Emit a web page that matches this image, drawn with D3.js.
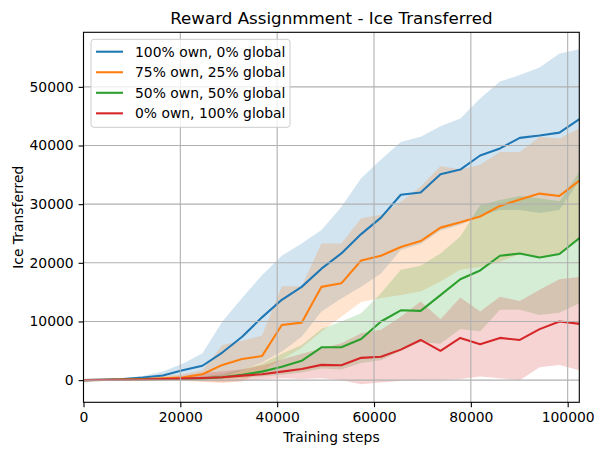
<!DOCTYPE html>
<html><head><meta charset="utf-8">
<script src="https://cdn.jsdelivr.net/npm/d3@7"></script>
<style>body{margin:0;background:#fff}svg{display:block}text{font-family:"DejaVu Sans",sans-serif}</style>
</head><body><svg id="c" width="603" height="455"></svg>
<script>
const steps = d3.range(26).map(i => i * 4096);
const seriesNames = ["100% own, 0% global","75% own, 25% global","50% own, 50% global","0% own, 100% global"];
const colors = ["#1f77b4","#ff7f0e","#2ca02c","#d62728"];
const xTicks = [0,20000,40000,60000,80000,100000];
const yTicks = [0,10000,20000,30000,40000,50000];

const blueMean = [0,80,200,450,800,1700,2450,4700,7400,10700,13700,15900,19000,21600,24900,27700,31600,32000,35100,35900,38300,39500,41300,41700,42200,44500];
const blueUpper = [0,150,300,700,1450,2800,4600,10000,14000,17900,21200,23300,25600,29500,34400,37600,40600,41500,43300,44600,48000,50900,52000,53300,55700,56400];
const blueLower = [0,0,0,50,100,200,300,600,1700,3000,4900,7400,11700,13900,15900,18200,22200,23200,25500,26500,28000,29000,29000,28500,29000,34000];

const orangeMean = [0,50,100,200,300,450,1000,2600,3600,4100,9400,9800,15900,16500,20400,21200,22700,23700,26000,26900,27900,29700,30800,31800,31400,34000];
const orangeUpper = [0,100,200,400,700,1000,1700,6000,6700,7600,16000,16000,23300,23300,27600,28200,30400,33000,36500,35900,36700,38900,38900,41500,41200,42900];
const orangeLower = [0,0,0,0,0,-100,-300,-500,-200,1500,3500,5500,8300,10800,13300,14000,14500,15100,16800,18800,19300,20200,21500,21000,21500,24000];

const greenMean = [0,30,60,100,150,200,300,500,900,1450,2300,3300,5600,5600,7000,10000,11900,11800,14500,17200,18700,21200,21600,20900,21500,24200];
const greenUpper = [0,50,100,200,300,400,600,1000,1800,2800,4500,6000,8700,10000,11400,14800,18800,19500,21600,24500,29800,30700,31400,31000,30500,35500];
const greenLower = [0,0,0,0,50,100,150,200,400,600,900,1300,2000,1800,2900,3400,5000,6500,6200,8700,8300,12000,12000,11100,11500,13100];

const redMean = [0,30,60,100,200,250,350,500,770,1000,1450,1900,2600,2550,3800,4000,5200,6850,5000,7200,6100,7200,6850,8700,10000,9600];
const redUpper = [0,50,100,200,400,700,1200,1500,1800,2500,3500,4500,5400,6300,8000,8600,10800,13400,10400,14100,11700,14200,13500,15400,17200,17600];
const redLower = [0,0,0,0,0,-50,-200,-300,-200,100,300,200,300,0,-700,-400,-150,0,0,200,600,300,0,2200,2600,1700];

const means = [blueMean, orangeMean, greenMean, redMean];
const uppers = [blueUpper, orangeUpper, greenUpper, redUpper];
const lowers = [blueLower, orangeLower, greenLower, redLower];

const L = 83.5, R = 579.3, T = 32.3, B = 402.3;
const FS = "13.9px";
const svg = d3.select("#c");
const x = d3.scaleLinear().domain([0, 102400]).range([L, R]);
const y = d3.scaleLinear().domain([-3780, 59300]).range([B, T]);

svg.append("defs").append("clipPath").attr("id","clip").append("rect")
  .attr("x",L).attr("y",T).attr("width",R-L).attr("height",B-T);
const plot = svg.append("g").attr("clip-path","url(#clip)");

// bands
const area = (lo, hi) => d3.area().x((d,i)=>x(steps[i])).y0((d,i)=>y(lo[i])).y1((d,i)=>y(hi[i]));
for (let s = 0; s < 4; s++) {
  plot.append("path").datum(steps).attr("d", area(lowers[s], uppers[s])(steps))
    .attr("fill", colors[s]).attr("fill-opacity", 0.2).attr("stroke","none");
}
// grid
const grid = svg.append("g");
xTicks.forEach(t => grid.append("line").attr("x1",x(t)).attr("x2",x(t)).attr("y1",T).attr("y2",B)
  .attr("stroke","#b0b0b0").attr("stroke-width",1.1));
yTicks.forEach(t => grid.append("line").attr("x1",L).attr("x2",R).attr("y1",y(t)).attr("y2",y(t))
  .attr("stroke","#b0b0b0").attr("stroke-width",1.1));
// lines
for (let s = 0; s < 4; s++) {
  const ln = d3.line().x((d,i)=>x(steps[i])).y((d,i)=>y(means[s][i]));
  plot.append("path").attr("d", ln(steps)).attr("fill","none").attr("stroke",colors[s])
    .attr("stroke-width",2.08).attr("stroke-linejoin","round").attr("stroke-linecap","square");
}
// axes
const xa = svg.append("g").attr("transform",`translate(0,${B})`)
  .call(d3.axisBottom(x).tickValues(xTicks).tickFormat(d3.format("d")).tickSize(4.9).tickPadding(4.9));
const ya = svg.append("g").attr("transform",`translate(${L},0)`)
  .call(d3.axisLeft(y).tickValues(yTicks).tickFormat(d3.format("d")).tickSize(4.9).tickPadding(4.9));
[xa, ya].forEach(a => {
  a.select(".domain").remove();
  a.selectAll("text").attr("font-size",FS).attr("fill","#000").attr("font-family","DejaVu Sans");
  a.selectAll("line").attr("stroke","#000").attr("stroke-width",1.1);
});
svg.append("rect").attr("x",L).attr("y",T).attr("width",R-L).attr("height",B-T)
  .attr("fill","none").attr("stroke","#000").attr("stroke-width",1.1);

// labels
svg.append("text").attr("x",(L+R)/2).attr("y",23.5).attr("text-anchor","middle")
  .attr("font-size","16.7px").text("Reward Assignmment - Ice Transferred");
svg.append("text").attr("x",(L+R)/2).attr("y",442).attr("text-anchor","middle")
  .attr("font-size",FS).text("Training steps");
svg.append("text").attr("transform",`translate(23,${(T+B)/2}) rotate(-90)`).attr("text-anchor","middle")
  .attr("font-size",FS).text("Ice Transferred");

// legend
const lg = svg.append("g");
lg.append("rect").attr("x",91).attr("y",39.3).attr("width",199).attr("height",88).attr("rx",3)
  .attr("fill","#fff").attr("fill-opacity",0.8).attr("stroke","#cccccc").attr("stroke-width",1);
seriesNames.forEach((n, i) => {
  const yy = 51.7 + i * 20.55;
  lg.append("line").attr("x1",96).attr("x2",123).attr("y1",yy).attr("y2",yy)
    .attr("stroke",colors[i]).attr("stroke-width",2.08);
  lg.append("text").attr("x",135).attr("y",yy+5).attr("font-size",FS).text(n);
});
</script></body></html>
